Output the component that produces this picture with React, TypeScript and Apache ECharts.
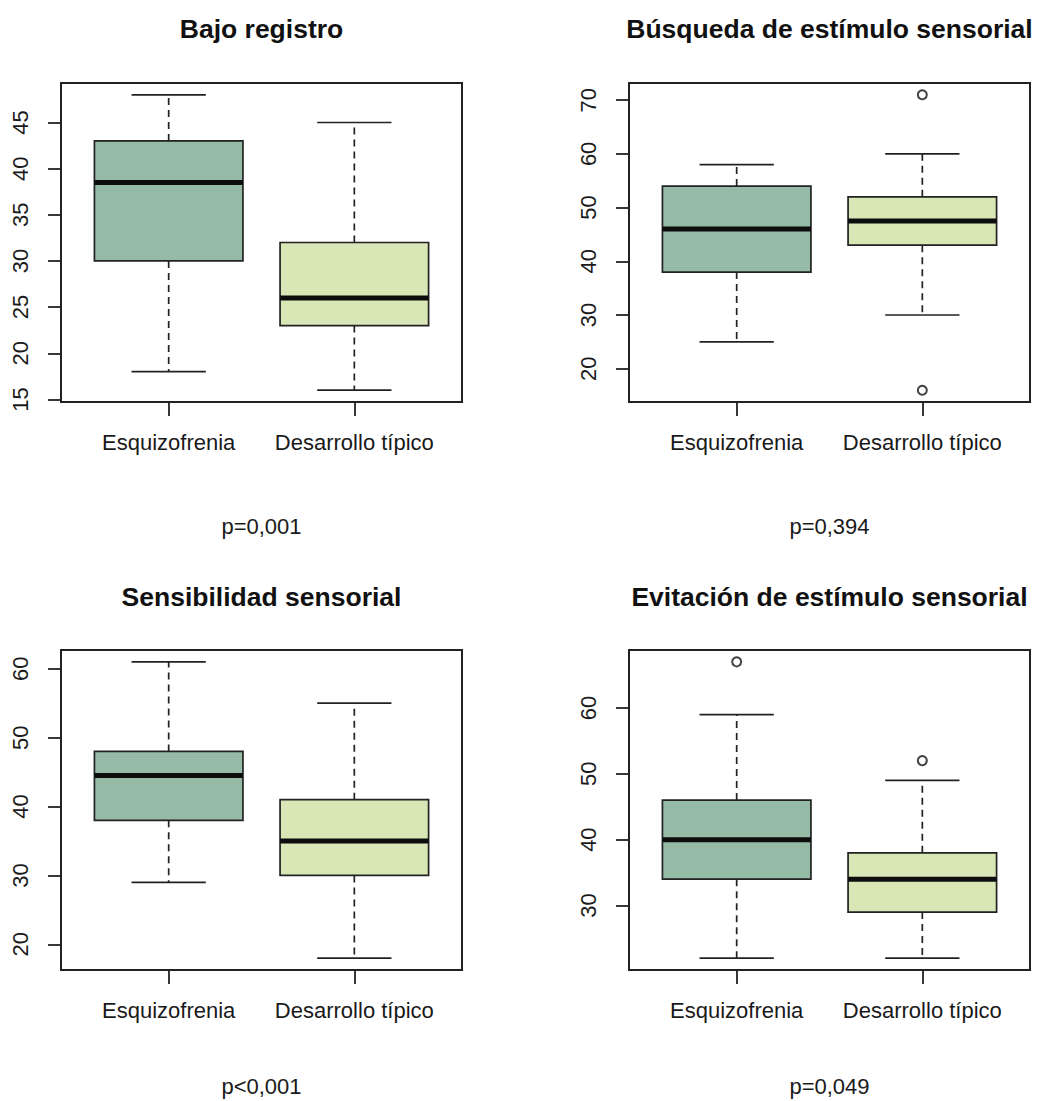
import React, { useEffect, useRef } from "react";
import * as echarts from "echarts";

// Group names along each x axis
const groups = ["Esquizofrenia", "Desarrollo típico"];
const boxColors = ["#95BAA5", "#D9E6B6"];

// Box statistics per group: [lower whisker, Q1, median, Q3, upper whisker]
const bajoRegistro = [
  [18, 30, 38.5, 43, 48],
  [16, 23, 26, 32, 45],
];
const busqueda = [
  [25, 38, 46, 54, 58],
  [30, 43, 47.5, 52, 60],
];
const sensibilidad = [
  [29, 38, 44.5, 48, 61],
  [18, 30, 35, 41, 55],
];
const evitacion = [
  [22, 34, 40, 46, 59],
  [22, 29, 34, 38, 49],
];

// Outlying observations: [group position, value]
const busquedaOutliers = [
  [2, 71],
  [2, 16],
];
const evitacionOutliers = [
  [1, 67],
  [2, 52],
];

// Y tick values per panel
const ticksBajo = [15, 20, 25, 30, 35, 40, 45];
const ticksBusqueda = [20, 30, 40, 50, 60, 70];
const ticksSensibilidad = [20, 30, 40, 50, 60];
const ticksEvitacion = [30, 40, 50, 60];

// Panel titles and test results
const titles = [
  "Bajo registro",
  "Búsqueda de estímulo sensorial",
  "Sensibilidad sensorial",
  "Evitación de estímulo sensorial",
];
const pValues = ["p=0,001", "p=0,394", "p<0,001", "p=0,049"];

const FONT = "'Liberation Sans', Arial, Helvetica, sans-serif";
const INK = "#1a1a1a";
const LINE = "#222222";

type Panel = {
  stats: number[][];
  outliers: number[][];
  ticks: number[];
  title: string;
  p: string;
};

const panels: Panel[] = [
  { stats: bajoRegistro, outliers: [], ticks: ticksBajo, title: titles[0], p: pValues[0] },
  { stats: busqueda, outliers: busquedaOutliers, ticks: ticksBusqueda, title: titles[1], p: pValues[1] },
  { stats: sensibilidad, outliers: [], ticks: ticksSensibilidad, title: titles[2], p: pValues[2] },
  { stats: evitacion, outliers: evitacionOutliers, ticks: ticksEvitacion, title: titles[3], p: pValues[3] },
];

// Plot rectangles (left, top, width, height)
const gridRects = [
  { left: 61, top: 83, width: 401, height: 319 },
  { left: 629, top: 83, width: 401, height: 319 },
  { left: 61, top: 650, width: 401, height: 320 },
  { left: 629, top: 650, width: 401, height: 320 },
];

// R-style extent: data range padded by 4% on each side
function extent(p: Panel) {
  const vals: number[] = [];
  p.stats.forEach((s) => vals.push(...s));
  p.outliers.forEach((o) => vals.push(o[1]));
  const lo = Math.min(...vals);
  const hi = Math.max(...vals);
  const pad = (hi - lo) * 0.04;
  return [lo - pad, hi + pad];
}

function renderBox(params: any, api: any) {
  const x = api.value(0);
  const low = api.value(1);
  const q1 = api.value(2);
  const med = api.value(3);
  const q3 = api.value(4);
  const high = api.value(5);
  const [xc, yLow] = api.coord([x, low]);
  const yQ1 = api.coord([x, q1])[1];
  const yMed = api.coord([x, med])[1];
  const yQ3 = api.coord([x, q3])[1];
  const yHigh = api.coord([x, high])[1];
  const xl = api.coord([x - 0.4, med])[0];
  const xr = api.coord([x + 0.4, med])[0];
  const cl = api.coord([x - 0.2, med])[0];
  const cr = api.coord([x + 0.2, med])[0];
  const dashed = { stroke: LINE, lineWidth: 1.7, lineDash: [7, 5] };
  const solid = { stroke: LINE, lineWidth: 1.7 };
  return {
    type: "group",
    children: [
      { type: "line", shape: { x1: xc, y1: yQ3, x2: xc, y2: yHigh }, style: dashed },
      { type: "line", shape: { x1: xc, y1: yQ1, x2: xc, y2: yLow }, style: dashed },
      { type: "line", shape: { x1: cl, y1: yHigh, x2: cr, y2: yHigh }, style: solid },
      { type: "line", shape: { x1: cl, y1: yLow, x2: cr, y2: yLow }, style: solid },
      {
        type: "rect",
        shape: { x: xl, y: yQ3, width: xr - xl, height: yQ1 - yQ3 },
        style: { fill: boxColors[params.dataIndex], stroke: LINE, lineWidth: 1.7 },
      },
      { type: "line", shape: { x1: xl, y1: yMed, x2: xr, y2: yMed }, style: { stroke: "#0d0d0d", lineWidth: 5 } },
    ],
  };
}

export default function App() {
  const ref = useRef<HTMLDivElement>(null);

  useEffect(() => {
    if (!ref.current) return;
    const chart = echarts.init(ref.current, undefined, { renderer: "svg" });

    const grid = gridRects.map((r) => ({
      ...r,
      show: true,
      borderColor: LINE,
      borderWidth: 2,
      backgroundColor: "transparent",
      containLabel: false,
    }));

    const xAxis = panels.map((_, i) => ({
      type: "value",
      gridIndex: i,
      min: 0.42,
      max: 2.58,
      axisLine: { show: false },
      splitLine: { show: false },
      axisTick: { show: true, length: 14, customValues: [1, 2], lineStyle: { color: LINE, width: 1.8 } },
      axisLabel: {
        show: true,
        customValues: [1, 2],
        margin: 29,
        fontSize: 22,
        fontFamily: FONT,
        color: INK,
        formatter: (v: number) => groups[Math.round(v) - 1] ?? "",
      },
    }));

    const yAxis = panels.map((p, i) => {
      const [mn, mx] = extent(p);
      return {
        type: "value",
        gridIndex: i,
        min: mn,
        max: mx,
        axisLine: { show: false },
        splitLine: { show: false },
        axisTick: { show: true, length: 13, customValues: p.ticks, lineStyle: { color: LINE, width: 1.8 } },
        axisLabel: {
          show: true,
          customValues: p.ticks,
          rotate: 90,
          margin: 30,
          fontSize: 22,
          fontFamily: FONT,
          color: INK,
        },
      };
    });

    const series: any[] = [];
    panels.forEach((p, i) => {
      series.push({
        type: "custom",
        xAxisIndex: i,
        yAxisIndex: i,
        renderItem: renderBox,
        encode: { x: 0, y: [1, 2, 3, 4, 5] },
        data: p.stats.map((s, g) => [g + 1, ...s]),
        silent: true,
      });
      if (p.outliers.length) {
        series.push({
          type: "scatter",
          xAxisIndex: i,
          yAxisIndex: i,
          symbol: "circle",
          symbolSize: 9,
          itemStyle: { color: "#ffffff", borderColor: "#111111", borderWidth: 2 },
          data: p.outliers,
          silent: true,
        });
      }
    });

    const title = panels.map((p, i) => {
      const r = gridRects[i];
      return {
        text: p.title,
        left: r.left + r.width / 2,
        top: i < 2 ? 15 : 583,
        textAlign: "center",
        padding: 0,
        textStyle: { fontSize: 26.5, fontWeight: "bold", fontFamily: FONT, color: "#111" },
      };
    });

    const graphic = panels.map((p, i) => {
      const r = gridRects[i];
      return {
        type: "text",
        x: r.left + r.width / 2,
        y: i < 2 ? 526 : 1086,
        style: {
          text: p.p,
          textAlign: "center",
          textVerticalAlign: "middle",
          fontSize: 22,
          fontFamily: FONT,
          fill: INK,
        },
      };
    });

    chart.setOption({
      animation: false,
      backgroundColor: "#ffffff",
      title,
      grid,
      xAxis,
      yAxis,
      series,
      graphic,
    });

    return () => chart.dispose();
  }, []);

  return (
    <div
      ref={ref}
      style={{ position: "fixed", left: 0, top: 0, width: 1038, height: 1101, background: "#fff" }}
    />
  );
}
